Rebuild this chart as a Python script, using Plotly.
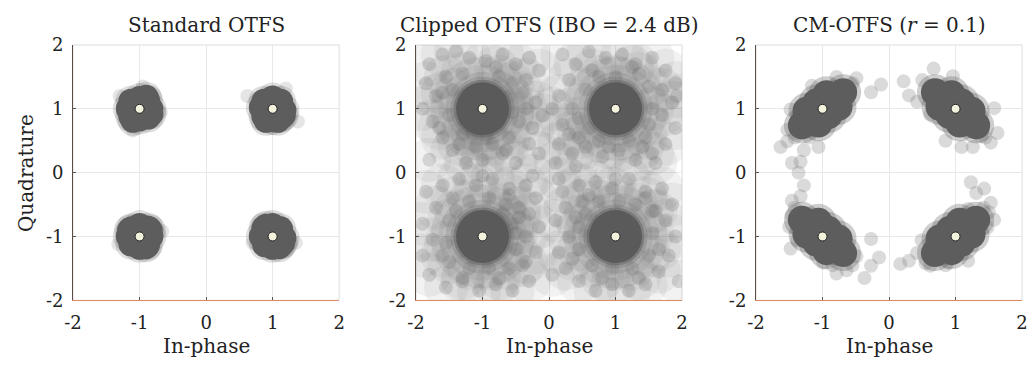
import plotly.graph_objects as go

# ---------------- data ----------------
const_i = [-1, 1, -1, 1]
const_q = [1, 1, -1, -1]

tick_vals = [-2, -1, 0, 1, 2]
tick_text = ["-2", "-1", "0", "1", "2"]

titles = ["Standard OTFS", "Clipped OTFS (IBO = 2.4 dB)", "CM-OTFS (<i>r</i> = 0.1)"]

# Standard OTFS: dense cores
std_core_i = [-1.0, -1.13, -0.88, -1.13, -0.87, -1.17, -0.83, -1.0, -1.0, -0.83, -1.1, -0.9,
              1.0, 0.87, 1.12, 0.87, 1.13, 0.83, 1.17, 1.0, 1.0, 1.16, 0.9, 1.08,
              -1.0, -1.12, -0.87, -1.13, -0.88, -1.17, -0.83, -1.0, -1.0, -0.84, -1.15, -0.9,
              1.0, 0.87, 1.12, 0.88, 1.13, 0.83, 1.17, 1.0, 1.0, 1.15, 0.9, 1.1]
std_core_q = [1.0, 1.12, 1.13, 0.88, 0.87, 1.0, 1.0, 1.16, 0.84, 0.92, 0.82, 1.18,
              1.0, 1.12, 1.12, 0.88, 0.87, 1.02, 0.98, 1.17, 0.83, 0.9, 0.82, 0.82,
              -1.0, -0.88, -0.87, -1.12, -1.13, -1.0, -1.0, -0.83, -1.17, -0.9, -0.9, -1.16,
              -1.0, -0.87, -0.88, -1.13, -1.12, -1.0, -1.02, -0.83, -1.17, -1.1, -0.84, -1.16]
std_out_i = [0.62, 1.38, -0.68, -1.1, -0.66, 0.7, 1.35, -1.3, 1.2, -0.95, -1.32]
std_out_q = [1.2, 0.8, 0.95, 0.66, -0.92, -1.1, -1.1, 1.2, 1.32, 1.35, -1.12]

# Clipped OTFS: scattered distortion points
clip_i = [-1.8, -1.6, -1.4, -1.2, -0.95, -0.7, -0.5, -0.3, -0.15, -1.85, -1.7, -1.9, -1.75, -1.6,
          -1.45, -1.8, -1.55, -1.3, -0.75, -0.55, -0.4, -0.35, -0.45, -0.25, -0.6, -0.85, -1.1,
          -1.3, -1.5, -0.2, -0.1, -0.3, -0.7, -1.0, -1.25, -0.5, -0.15, -1.6, -0.6, -0.95,
          -1.45, -0.55, -1.35, -0.8, -1.65, -0.35, -1.15, -0.65,
          0.2, 0.4, 0.6, 0.85, 1.1, 1.3, 1.55, 1.75, 1.9, 1.85, 1.7, 1.9, 1.75, 1.55, 1.3, 1.05,
          0.8, 0.55, 0.35, 0.15, 0.2, 0.35, 0.15, 0.3, 0.55, 0.6, 0.45, 0.75, 1.2, 1.45, 1.55,
          1.5, 1.35, 0.75, 1.0, 0.1, 0.4, 1.6, 0.05, 1.92,
          0.45, 1.5, 0.65, 1.25, 0.3, 1.7, 0.9, 1.4,
          -1.85, -1.6, -1.35, -1.1, -0.85, -0.6, -0.35, -0.2, -0.3, -0.15, -0.35, -0.2, -0.4,
          -0.3, -0.55, -0.8, -1.05, -1.3, -1.55, -1.8, -1.9, -1.75, -1.9, -1.7, -1.45, -1.2,
          -0.9, -0.65, -0.45, -0.55, -0.5, -0.6, -0.9, -1.2, -1.5, -1.55, -1.5, -0.7, -0.25, -1.0,
          -0.45, -1.4, -0.6, -1.3, -0.35, -0.75, -1.6, -0.5,
          0.2, 0.45, 0.7, 0.95, 1.2, 1.45, 1.7, 1.85, 1.75, 1.9, 1.8, 1.65, 1.45, 1.2, 0.95, 0.7,
          0.45, 0.25, 0.15, 0.3, 0.1, 0.25, 0.5, 0.75, 1.05, 1.3, 1.55, 1.55, 1.5, 1.25, 0.95,
          0.65, 0.45, 0.45, 0.55, 0.15, 0.05, 1.95, 1.0, 0.6,
          0.4, 1.45, 0.6, 1.35, 0.35, 1.65, 0.8, 1.6]
clip_q = [1.7, 1.85, 1.9, 1.8, 1.75, 1.85, 1.7, 1.8, 1.6, 1.4, 1.2, 1.0, 0.8, 0.55,
          0.35, 0.2, 1.5, 1.55, 1.5, 1.4, 1.25, 1.0, 0.8, 0.7, 0.55, 0.45, 0.4,
          0.6, 0.9, 1.1, 0.9, 0.45, 0.3, 0.2, 0.15, 0.15, 0.3, 1.25, 1.2, 0.55,
          1.3, 0.95, 0.45, 1.65, 0.7, 1.45, 0.6, 0.35,
          1.85, 1.7, 1.9, 1.8, 1.85, 1.7, 1.8, 1.6, 1.4, 1.1, 0.9, 0.7, 0.45, 0.3, 0.2, 0.35,
          0.25, 0.4, 0.3, 0.45, 0.75, 1.0, 1.2, 1.45, 1.3, 0.7, 0.55, 0.5, 0.5, 0.55, 1.0,
          1.35, 1.55, 1.5, 1.5, 0.15, 0.1, 0.15, 1.0, 1.2,
          0.85, 0.75, 1.6, 1.65, 0.6, 1.3, 0.4, 0.4,
          -0.3, -0.2, -0.1, -0.2, -0.1, -0.25, -0.2, -0.4, -0.65, -0.85, -1.0, -1.25, -1.45,
          -1.7, -1.85, -1.75, -1.85, -1.7, -1.8, -1.6, -1.3, -1.05, -0.8, -0.55, -0.4, -0.45,
          -0.4, -0.5, -0.55, -0.8, -1.2, -1.5, -1.5, -1.5, -1.4, -1.1, -0.75, -0.65, -0.05, -0.05,
          -0.7, -0.6, -0.35, -1.65, -1.4, -1.65, -1.3, -0.95,
          -0.3, -0.2, -0.15, -0.25, -0.1, -0.3, -0.25, -0.5, -0.75, -1.0, -1.3, -1.55, -1.75,
          -1.85, -1.75, -1.85, -1.7, -1.5, -1.25, -1.0, -0.75, -0.55, -0.45, -0.45, -0.45, -0.5,
          -0.6, -0.95, -1.3, -1.5, -1.5, -1.45, -1.2, -0.85, -0.65, -0.1, -1.6, -1.7, -0.1, -1.0,
          -0.7, -0.4, -0.35, -1.65, -1.35, -1.2, -1.65, -0.6]

# CM-OTFS: elongated cores and outliers
cm_core_i = [-1.31, -1.21, -1.1, -1.0, -0.9, -0.79, -0.69, -1.24, -1.09, -0.94, -1.06, -0.91, -0.76,
             0.69, 0.79, 0.9, 1.0, 1.1, 1.21, 1.31, 0.94, 1.09, 1.24, 0.76, 0.91, 1.06,
             -1.31, -1.21, -1.1, -1.0, -0.9, -0.79, -0.69, -1.24, -1.09, -0.94, -1.06, -0.91, -0.76,
             0.69, 0.79, 0.9, 1.0, 1.1, 1.21, 1.31, 0.94, 1.09, 1.24, 0.76, 0.91, 1.06]
cm_core_q = [0.74, 0.83, 0.92, 1.0, 1.08, 1.17, 1.26, 0.97, 1.1, 1.23, 0.77, 0.9, 1.03,
             1.26, 1.17, 1.08, 1.0, 0.92, 0.83, 0.74, 1.23, 1.1, 0.97, 1.03, 0.9, 0.77,
             -0.74, -0.83, -0.92, -1.0, -1.08, -1.17, -1.26, -0.97, -1.1, -1.23, -0.77, -0.9, -1.03,
             -1.26, -1.17, -1.08, -1.0, -0.92, -0.83, -0.74, -1.23, -1.1, -0.97, -1.03, -0.9, -0.77]
cm_out_i = [-1.48, -1.63, -1.53, -1.46, -1.33, -1.36, -1.06, -1.28, -0.12, -0.27, -0.49, -0.79, -1.16, -1.38, -1.53,
            -1.42, -0.55, -0.62, -1.2,
            0.22, 0.30, 0.42, 0.67, 0.96, 1.58, 1.63, 1.53, 1.26, 1.09, 0.62, 1.38, 0.74,
            0.5, 1.45, 1.4, 0.85,
            -1.28, -1.33, -1.46, -1.46, -1.48, -0.27, -0.15, -0.27, -0.37, -0.64, -0.79, -0.99, -1.38, -0.49,
            -1.42, -0.55, -1.5, -0.85,
            1.23, 1.43, 1.31, 1.53, 1.58, 1.48, 1.19, 0.17, 0.30, 0.42, 0.62, 0.89, 1.19, 0.49,
            1.42, 0.55, 1.5, 0.85]
cm_out_q = [0.99, 0.4, 0.49, 0.15, 0.17, 0.0, 0.4, 0.35, 1.38, 1.26, 1.48, 1.5, 1.36, 0.62, 0.67,
            0.55, 1.4, 1.35, 0.55,
            1.43, 1.21, 1.11, 1.63, 1.51, 1.01, 0.62, 0.47, 0.4, 0.4, 0.91, 0.57, 1.36,
            1.45, 0.55, 0.65, 0.5,
            -0.2, -0.37, -0.44, -0.67, -1.19, -1.04, -1.33, -1.46, -1.65, -1.53, -1.58, -1.41, -1.06, -1.31,
            -0.55, -1.45, -0.85, -1.45,
            -0.15, -0.25, -0.32, -0.47, -0.74, -0.86, -0.57, -1.43, -1.38, -1.26, -1.46, -1.41, -1.38, -1.06,
            -0.55, -1.42, -0.62, -1.45]

# ---------------- figure ----------------
W, H = 1033, 374
FONT = "DejaVu Serif"
CORE = "#5d5d5d"
x_domains = [[65 / W, 335 / W], [413 / W, 683 / W], [758 / W, 1028 / W]]
y_domain = [1 - 306.5 / H, 1 - 36 / H]

fig = go.Figure()


def add(i, x, q, size, color, opacity, line=None):
    sfx = "" if i == 0 else str(i + 1)
    fig.add_trace(go.Scatter(
        x=x, y=q, mode="markers", xaxis="x" + sfx, yaxis="y" + sfx, hoverinfo="skip",
        marker=dict(size=size, color=color, opacity=opacity,
                    line=line if line else dict(width=0)),
        showlegend=False))


# panel 1
add(0, std_out_i, std_out_q, 14, "#8a8a8a", 0.22)
add(0, std_core_i, std_core_q, 31, CORE, 0.2)
add(0, std_core_i, std_core_q, 25, CORE, 1.0)

# panel 2
add(1, clip_i, clip_q, 44, "#808080", 0.1)
add(1, const_i, const_q, 104, "#7a7a7a", 0.15)
add(1, const_i, const_q, 88, "#777777", 0.15)
add(1, clip_i, clip_q, 14, "#6e6e6e", 0.23)
add(1, const_i, const_q, 74, "#6e6e6e", 0.2)
add(1, const_i, const_q, 64, "#666666", 0.28)
add(1, const_i, const_q, 58, CORE, 0.5)
add(1, const_i, const_q, 53, "#5a5a5a", 1.0)

# panel 3
add(2, cm_out_i, cm_out_q, 14, "#7a7a7a", 0.28)
add(2, cm_core_i, cm_core_q, 36, CORE, 0.3)
add(2, cm_core_i, cm_core_q, 28, CORE, 1.0)

# constellation points
for p in range(3):
    add(p, const_i, const_q, 9, "#f3f3dd", 1.0, dict(width=1, color="#222222"))

layout = dict(
    width=W, height=H, margin=dict(l=0, r=0, t=0, b=0),
    paper_bgcolor="white", plot_bgcolor="white",
    font=dict(family=FONT, color="#222222"),
    annotations=[], shapes=[],
)
for p in range(3):
    sfx = "" if p == 0 else str(p + 1)
    common = dict(range=[-2, 2], tickmode="array", tickvals=tick_vals, ticktext=tick_text,
                  showgrid=True, gridcolor="#e8e8e8", gridwidth=1, zeroline=False,
                  ticks="inside", ticklen=3, tickcolor="#555555", tickwidth=1,
                  tickfont=dict(family=FONT, size=18, color="#222222"),
                  showline=True, linewidth=1, fixedrange=True)
    layout["xaxis" + sfx] = dict(common, domain=x_domains[p], anchor="y" + sfx,
                                 linecolor="#e08a62", ticklabelstandoff=6)
    layout["yaxis" + sfx] = dict(common, domain=y_domain, anchor="x" + sfx,
                                 linecolor="#5e4c48", ticklabelstandoff=5)
    xc = (x_domains[p][0] + x_domains[p][1]) / 2
    layout["annotations"].append(dict(text=titles[p], x=xc, y=1 - 15 / H, xref="paper", yref="paper",
                                      xanchor="center", yanchor="middle", showarrow=False,
                                      font=dict(family=FONT, size=20, color="#222222")))
    layout["annotations"].append(dict(text="In-phase", x=xc, y=1 - 355 / H, xref="paper", yref="paper",
                                      xanchor="center", yanchor="middle", showarrow=False,
                                      font=dict(family=FONT, size=20, color="#222222")))
    layout["shapes"].append(dict(type="rect", xref="x" + sfx + " domain", yref="y" + sfx + " domain",
                                 x0=0, x1=1, y0=0, y1=1, line=dict(color="#dcdcdc", width=1),
                                 layer="below"))
layout["annotations"].append(dict(text="Quadrature", x=18 / W, y=1 - 172 / H, xref="paper",
                                  yref="paper", xanchor="center", yanchor="middle", showarrow=False,
                                  textangle=-90, font=dict(family=FONT, size=20, color="#222222")))

fig.update_layout(layout)
fig.write_html("out.html")
